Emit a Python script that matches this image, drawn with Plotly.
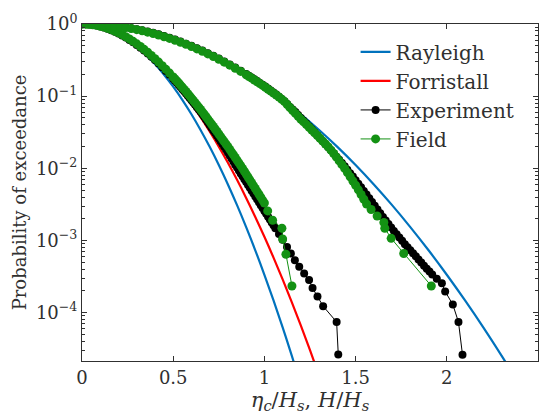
import plotly.graph_objects as go

# ---------------- data ----------------
# Theoretical curves
ray_crest_x = [0, 0.05, 0.1, 0.15, 0.2, 0.25, 0.3, 0.35, 0.4, 0.45, 0.5, 0.55, 0.6, 0.65,
               0.7, 0.75, 0.8, 0.85, 0.9, 0.95, 1.0, 1.05, 1.1, 1.15, 1.17]
ray_height_x = [0, 0.1, 0.2, 0.3, 0.4, 0.5, 0.6, 0.7, 0.8, 0.9, 1.0, 1.1, 1.2, 1.3,
                1.4, 1.5, 1.6, 1.7, 1.8, 1.9, 2.0, 2.1, 2.2, 2.3, 2.34]
ray_p = [1, 0.9802, 0.9231, 0.8353, 0.7261, 0.6065, 0.4868, 0.3753, 0.2780, 0.1979,
         0.1353, 0.0889, 0.0561, 0.0340, 0.01984, 0.01111, 0.00598, 0.00309, 0.001534,
         0.000732, 0.000335, 0.0001475, 0.0000625, 0.0000254, 0.0000175]

forr_x = [0, 0.05, 0.1, 0.15, 0.2, 0.25, 0.3, 0.35, 0.4, 0.45, 0.5, 0.55, 0.6, 0.65, 0.7,
          0.75, 0.8, 0.85, 0.9, 0.95, 1.0, 1.05, 1.1, 1.15, 1.2, 1.25, 1.3]
forr_p = [1, 0.9784, 0.921, 0.836, 0.7328, 0.6209, 0.5086, 0.4031, 0.3093, 0.2299, 0.1655,
          0.1153, 0.0780, 0.0511, 0.0324, 0.0200, 0.01194, 0.00693, 0.00389, 0.00212,
          0.001124, 0.000578, 0.000289, 0.000140, 0.0000661, 0.0000302, 0.0000134]

# Experiment, crest  (x, log10 of exceedance probability)
exp_crest_x = [0.00, 0.02, 0.04, 0.06, 0.08, 0.10, 0.12, 0.14, 0.16, 0.18, 0.20, 0.22, 0.24,
               0.26, 0.28, 0.30, 0.32, 0.34, 0.36, 0.38, 0.40, 0.42, 0.44, 0.46, 0.48,
               0.50, 0.51, 0.52, 0.53, 0.54, 0.55, 0.56, 0.57, 0.58, 0.59, 0.60, 0.61, 0.62,
               0.63, 0.64, 0.65, 0.66, 0.67, 0.68, 0.69, 0.70, 0.71, 0.72, 0.73, 0.74, 0.75,
               0.76, 0.77, 0.78, 0.79, 0.80, 0.81, 0.82, 0.83, 0.84, 0.85, 0.86, 0.87, 0.88,
               0.89, 0.90, 0.91, 0.92, 0.93, 0.94, 0.95, 0.96, 0.97, 0.98, 0.99, 1.00, 1.01,
               1.02, 1.03, 1.04, 1.05, 1.06, 1.08, 1.10,
               1.124, 1.145, 1.167, 1.191, 1.218, 1.245, 1.264, 1.291, 1.322, 1.396, 1.405]
exp_crest_log = [0, -0.002, -0.006, -0.013, -0.022, -0.034, -0.048, -0.065, -0.085, -0.107,
                 -0.131, -0.158, -0.188, -0.22, -0.254, -0.29, -0.328, -0.368, -0.41, -0.455,
                 -0.50, -0.548, -0.598, -0.65, -0.703,
                 -0.758, -0.786, -0.815, -0.844, -0.873, -0.903, -0.933, -0.963, -0.994, -1.025,
                 -1.056, -1.088, -1.12, -1.152, -1.185, -1.217, -1.25, -1.287, -1.325, -1.362,
                 -1.40, -1.437, -1.475, -1.512, -1.55, -1.587, -1.625, -1.662, -1.70, -1.74,
                 -1.78, -1.822, -1.865, -1.907, -1.95, -1.99, -2.03, -2.07, -2.11, -2.15,
                 -2.19, -2.23, -2.27, -2.31, -2.35, -2.39, -2.43, -2.47, -2.51, -2.55, -2.59,
                 -2.63, -2.67, -2.71, -2.75, -2.79, -2.83, -2.91, -2.99,
                 -3.09, -3.18, -3.274, -3.365, -3.456, -3.547, -3.66, -3.775, -3.91, -4.13, -4.58]

# Experiment, height
exp_height_x = [0.00, 0.03, 0.06, 0.09, 0.12, 0.15, 0.18, 0.21, 0.24, 0.27, 0.30, 0.33, 0.36,
                0.39, 0.42, 0.45, 0.48, 0.51, 0.54, 0.57, 0.60, 0.63, 0.66, 0.69, 0.72, 0.75,
                0.78, 0.81, 0.84, 0.87,
                0.90, 0.915, 0.93, 0.945, 0.96, 0.975, 0.99, 1.005, 1.02, 1.035, 1.05, 1.065,
                1.08, 1.095, 1.11, 1.125, 1.14, 1.155, 1.17, 1.185, 1.20, 1.215, 1.23, 1.245,
                1.26, 1.275, 1.29, 1.305, 1.32, 1.335, 1.35, 1.365, 1.38, 1.395, 1.41, 1.425,
                1.44, 1.455, 1.47, 1.485, 1.50, 1.515, 1.53, 1.545, 1.56, 1.575, 1.59, 1.605,
                1.62, 1.635, 1.65, 1.665, 1.68, 1.695, 1.71, 1.725, 1.74, 1.755, 1.77, 1.785,
                1.80, 1.815, 1.83, 1.845, 1.86, 1.875, 1.89, 1.905, 1.92,
                1.945, 1.973, 1.991, 2.033, 2.064, 2.086]
exp_height_log = [0, -0.001, -0.003, -0.007, -0.012, -0.019, -0.027, -0.036, -0.047, -0.06,
                  -0.073, -0.088, -0.104, -0.122, -0.143, -0.166, -0.19, -0.216, -0.243, -0.272,
                  -0.303, -0.335, -0.368, -0.404, -0.44, -0.479, -0.519, -0.56, -0.603, -0.647,
                  -0.694, -0.717, -0.741, -0.766, -0.791, -0.816, -0.841, -0.867, -0.894, -0.922,
                  -0.95, -0.978, -1.008, -1.038, -1.07, -1.109, -1.149, -1.184, -1.219, -1.26,
                  -1.301, -1.34, -1.379, -1.419, -1.459, -1.5, -1.54, -1.582, -1.624, -1.666,
                  -1.708, -1.751, -1.794, -1.838, -1.882, -1.926, -1.971, -2.019, -2.067, -2.115,
                  -2.164, -2.213, -2.263, -2.313, -2.364, -2.415, -2.466, -2.518, -2.57, -2.622,
                  -2.675, -2.723, -2.772, -2.821, -2.87, -2.915, -2.96, -3.005, -3.051, -3.092,
                  -3.134, -3.176, -3.219, -3.262, -3.305, -3.349, -3.393, -3.431, -3.47,
                  -3.53, -3.592, -3.706, -3.888, -4.13, -4.584]

# Field, crest
fld_crest_x = [0.00, 0.02, 0.04, 0.06, 0.08, 0.10, 0.12, 0.14, 0.16, 0.18, 0.20, 0.22, 0.24,
               0.26, 0.28, 0.30, 0.32, 0.34, 0.36, 0.38, 0.40, 0.42, 0.44, 0.46, 0.48,
               0.50, 0.51, 0.52, 0.53, 0.54, 0.55, 0.56, 0.57, 0.58, 0.59, 0.60, 0.61, 0.62,
               0.63, 0.64, 0.65, 0.66, 0.67, 0.68, 0.69, 0.70, 0.71, 0.72, 0.73, 0.74, 0.75,
               0.76, 0.77, 0.78, 0.79, 0.80, 0.81, 0.82, 0.83, 0.84, 0.85, 0.86, 0.87, 0.88,
               0.89, 0.90, 0.91, 0.92, 0.93, 0.94, 0.95, 0.96, 0.97, 0.98, 0.99, 1.00,
               1.018, 1.045, 1.096, 1.10, 1.118, 1.151]
fld_crest_log = [0, -0.002, -0.005, -0.011, -0.019, -0.03, -0.043, -0.059, -0.078, -0.099,
                 -0.122, -0.148, -0.176, -0.207, -0.24, -0.275, -0.312, -0.351, -0.392, -0.436,
                 -0.481, -0.528, -0.577, -0.628, -0.68,
                 -0.734, -0.762, -0.79, -0.818, -0.847, -0.876, -0.906, -0.936, -0.966, -0.996,
                 -1.027, -1.058, -1.09, -1.121, -1.153, -1.185, -1.218, -1.251, -1.285, -1.318,
                 -1.352, -1.386, -1.42, -1.455, -1.49, -1.525, -1.56, -1.595, -1.63, -1.665,
                 -1.70, -1.737, -1.775, -1.812, -1.85, -1.887, -1.925, -1.962, -2.0, -2.04,
                 -2.08, -2.12, -2.16, -2.2, -2.24, -2.28, -2.32, -2.36, -2.40, -2.44, -2.48,
                 -2.59, -2.72, -2.83, -2.98, -3.19, -3.63]

# Field, height
fld_height_x = [0.00, 0.03, 0.06, 0.09, 0.12, 0.15, 0.18, 0.21, 0.24, 0.27, 0.30, 0.33, 0.36,
                0.39, 0.42, 0.45, 0.48, 0.51, 0.54, 0.57, 0.60, 0.63, 0.66, 0.69, 0.72, 0.75,
                0.78, 0.81, 0.84, 0.87,
                0.90, 0.915, 0.93, 0.945, 0.96, 0.975, 0.99, 1.005, 1.02, 1.035, 1.05, 1.065,
                1.08, 1.095, 1.11, 1.125, 1.14, 1.155, 1.17, 1.185, 1.20, 1.215, 1.23, 1.245,
                1.26, 1.275, 1.29, 1.305, 1.32, 1.335, 1.35, 1.365, 1.38, 1.395, 1.41, 1.425,
                1.44, 1.455, 1.47, 1.485, 1.50, 1.515, 1.53, 1.545, 1.56,
                1.585, 1.618, 1.655, 1.66, 1.695, 1.764, 1.915]
fld_height_log = [0, -0.001, -0.003, -0.007, -0.013, -0.02, -0.028, -0.038, -0.05, -0.063,
                  -0.078, -0.095, -0.113, -0.132, -0.153, -0.176, -0.2, -0.226, -0.253, -0.282,
                  -0.313, -0.345, -0.378, -0.414, -0.45, -0.489, -0.529, -0.57, -0.613, -0.657,
                  -0.704, -0.727, -0.751, -0.776, -0.801, -0.826, -0.851, -0.877, -0.904, -0.931,
                  -0.958, -0.985, -1.013, -1.044, -1.075, -1.117, -1.159, -1.199, -1.239, -1.28,
                  -1.321, -1.357, -1.394, -1.431, -1.469, -1.507, -1.545, -1.584, -1.624, -1.663,
                  -1.703, -1.748, -1.794, -1.845, -1.897, -1.949, -2.001, -2.059, -2.117, -2.175,
                  -2.234, -2.298, -2.363, -2.428, -2.494,
                  -2.57, -2.66, -2.75, -2.83, -2.97, -3.18, -3.63]

y_tick_vals = [1, 0.1, 0.01, 0.001, 0.0001]
y_tick_text = ["10<sup>0</sup>", "10<sup>−1</sup>", "10<sup>−2</sup>", "10<sup>−3</sup>", "10<sup>−4</sup>"]
x_tick_vals = [0, 0.5, 1, 1.5, 2, 2.5]
x_tick_text = ["0", "0.5", "1", "1.5", "2", "2.5"]

# ---------------- styling ----------------
FONT = "DejaVu Serif"
TXT = "#303030"
BLUE = "#0072BD"
RED = "#FF0000"
GREEN = "#139113"
BLACK = "#000000"


def join(xa, ya, xb, yb):
    return list(xa) + [None] + list(xb), list(ya) + [None] + list(yb)


def unlog(vals):
    return [10 ** v for v in vals]


fig = go.Figure()

rx, ry = join(ray_crest_x, ray_p, ray_height_x, ray_p)
fig.add_trace(go.Scatter(x=rx, y=ry, mode="lines", name="Rayleigh",
                         line=dict(color=BLUE, width=2.2, shape="spline"),
                         connectgaps=False))
fig.add_trace(go.Scatter(x=forr_x, y=forr_p, mode="lines", name="Forristall",
                         line=dict(color=RED, width=2.2, shape="spline")))

ex, ey = join(exp_crest_x, unlog(exp_crest_log), exp_height_x, unlog(exp_height_log))
fig.add_trace(go.Scatter(x=ex, y=ey, mode="lines+markers", name="Experiment",
                         line=dict(color=BLACK, width=1),
                         marker=dict(color=BLACK, size=8), connectgaps=False))

fx, fy = join(fld_crest_x, unlog(fld_crest_log), fld_height_x, unlog(fld_height_log))
fig.add_trace(go.Scatter(x=fx, y=fy, mode="lines+markers", name="Field",
                         line=dict(color=GREEN, width=1),
                         marker=dict(color=GREEN, size=9), connectgaps=False))

minor_vals = [k * 10 ** (-n) for n in range(1, 6) for k in range(2, 10)]

fig.update_layout(
    width=550, height=418,
    margin=dict(l=82, r=11, t=21, b=55),
    paper_bgcolor="white", plot_bgcolor="white",
    font=dict(family=FONT, size=18, color=TXT),
    showlegend=True,
    legend=dict(x=0.6, y=0.975, xanchor="left", yanchor="top",
                bgcolor="rgba(0,0,0,0)", font=dict(family=FONT, size=20, color=TXT),
                itemwidth=30, tracegroupgap=0),
    xaxis=dict(range=[0, 2.5], tickmode="array", tickvals=x_tick_vals, ticktext=x_tick_text,
               ticks="inside", ticklen=5, tickcolor=TXT, showline=True, linecolor=TXT,
               linewidth=1, mirror="ticks", showgrid=False, zeroline=False,
               tickfont=dict(family=FONT, size=18, color=TXT),
               title=dict(text="<i>η</i><sub><i>c</i></sub>/<i>H</i><sub><i>s</i></sub>, "
                               "<i>H</i>/<i>H</i><sub><i>s</i></sub>",
                          font=dict(family=FONT, size=21, color=TXT), standoff=5)),
    yaxis=dict(type="log", range=[-4.67, 0], tickmode="array", tickvals=y_tick_vals,
               ticktext=y_tick_text, ticks="inside", ticklen=5, tickcolor=TXT,
               showline=True, linecolor=TXT, linewidth=1, mirror="ticks",
               showgrid=False, zeroline=False,
               tickfont=dict(family=FONT, size=18, color=TXT),
               minor=dict(tickmode="array", tickvals=minor_vals, ticks="inside",
                          ticklen=3, tickcolor=TXT, showgrid=False),
               title=dict(text="Probability of exceedance",
                          font=dict(family=FONT, size=18, color=TXT), standoff=4)),
)

fig.write_html("out.html")
